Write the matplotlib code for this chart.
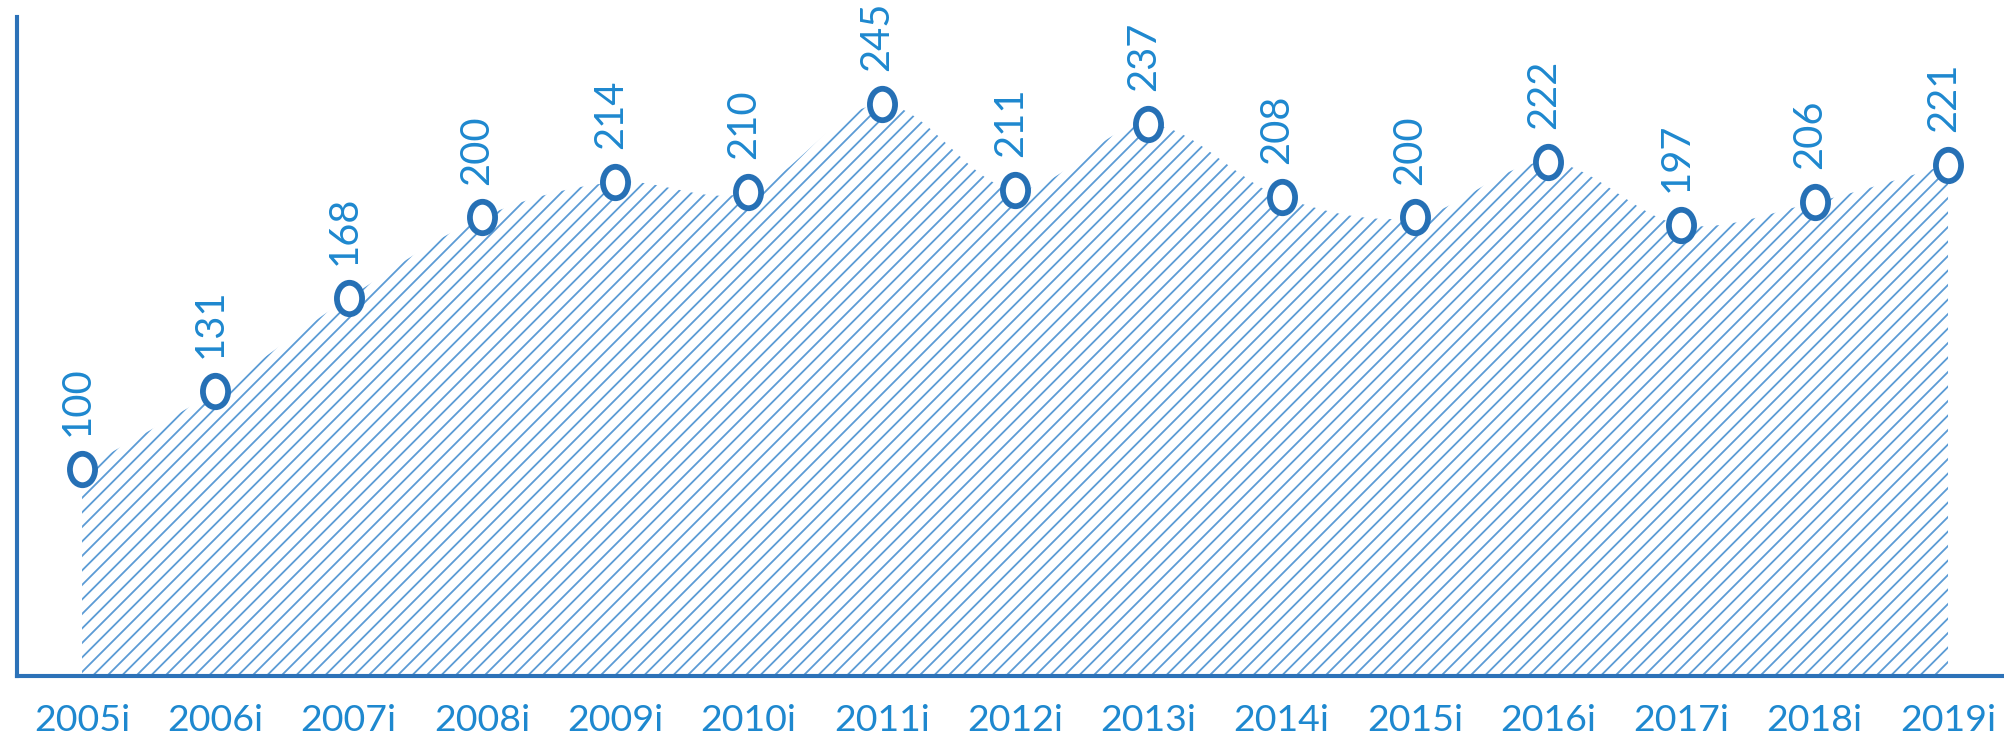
import matplotlib
matplotlib.use("Agg")
import matplotlib.pyplot as plt
from matplotlib.path import Path
from matplotlib.patches import PathPatch
from matplotlib.transforms import Affine2D
import numpy as np

years = ["2005i", "2006i", "2007i", "2008i", "2009i", "2010i", "2011i", "2012i",
         "2013i", "2014i", "2015i", "2016i", "2017i", "2018i", "2019i"]
values = [100, 131, 168, 200, 214, 210, 245, 211, 237, 208, 200, 222, 197, 206, 221]

DPI = 174
plt.rcParams['hatch.linewidth'] = 0.75
plt.rcParams['font.family'] = ['Lato', 'DejaVu Sans']

SPINE = '#2C72B8'
TEXT = '#1E88CF'
HATCH = '#5B9BD5'
MARK = '#2670B5'

fig = plt.figure(figsize=(2004 / DPI, 739 / DPI), dpi=DPI)
ax = fig.add_axes([17 / 2004, 62 / 739, 1 - 17 / 2004, (677 - 18) / 739])

x = np.arange(len(values), dtype=float)
y = np.array(values, dtype=float)
ymin = 17.8

# smooth top edge as cubic Bezier segments (Catmull-Rom style control points)
verts = [(x[0], ymin), (x[0], y[0])]
codes = [Path.MOVETO, Path.LINETO]
n = len(x)
for i in range(n - 1):
    p0 = np.array([x[max(i - 1, 0)], y[max(i - 1, 0)]])
    p1 = np.array([x[i], y[i]])
    p2 = np.array([x[i + 1], y[i + 1]])
    p3 = np.array([x[min(i + 2, n - 1)], y[min(i + 2, n - 1)]])
    c1 = p1 + (p2 - p0) / 6.0
    c2 = p2 - (p3 - p1) / 6.0
    verts += [tuple(c1), tuple(c2), tuple(p2)]
    codes += [Path.CURVE4] * 3
verts += [(x[-1], ymin), (x[0], ymin)]
codes += [Path.LINETO, Path.CLOSEPOLY]
patch = PathPatch(Path(verts, codes), facecolor='none', edgecolor=HATCH,
                  linewidth=0, hatch='////', zorder=1)
ax.add_patch(patch)

circ = Path.unit_circle().transformed(Affine2D().scale(0.8, 1.0))
ax.plot(x, y, linestyle='none', marker=circ, markersize=13.0,
        markerfacecolor='white', markeredgecolor=MARK, markeredgewidth=2.4,
        zorder=3)

for xi, yi in zip(x, y):
    ax.annotate(f"{int(yi)}", (xi, yi), xytext=(-2.0, 14.0), textcoords='offset points',
                rotation=90, ha='center', va='bottom', color=TEXT, fontsize=16.5)

ax.set_xlim(-0.488, 14.42)
ax.set_ylim(ymin, 279.6)
ax.set_xticks(x)
ax.set_xticklabels(years)
ax.set_yticks([])
ax.tick_params(axis='x', length=0, pad=11.0, labelsize=15.5, labelcolor=TEXT)
for s in ['top', 'right']:
    ax.spines[s].set_visible(False)
for s in ['left', 'bottom']:
    ax.spines[s].set_color(SPINE)
    ax.spines[s].set_linewidth(1.7)

fig.savefig('out.png', dpi=DPI)
